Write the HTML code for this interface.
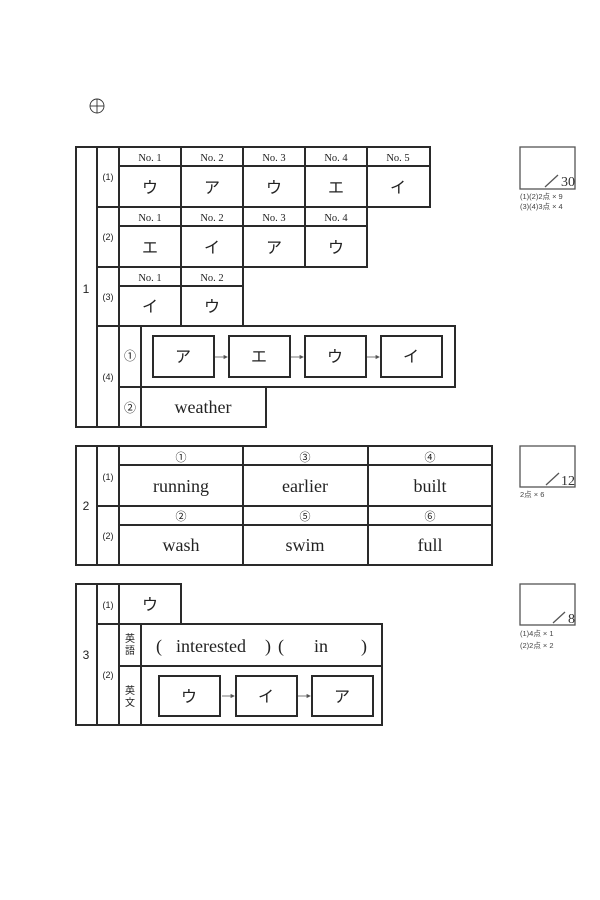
<!DOCTYPE html>
<html><head><meta charset="utf-8"><style>
html,body{margin:0;padding:0;background:#fff;width:600px;height:900px;overflow:hidden}
svg{display:block}
.s{font-family:"Liberation Serif","Noto Serif CJK SC",serif}
.g{font-family:"Liberation Sans","Noto Sans CJK JP",sans-serif}
</style></head><body>
<svg width="600" height="900" viewBox="0 0 600 900" xmlns="http://www.w3.org/2000/svg">
<g fill="none" stroke="#333" stroke-width="0.9">
<circle cx="97" cy="106" r="7"/><line x1="90" y1="106" x2="104" y2="106"/><line x1="97" y1="99" x2="97" y2="113"/>
</g>
<g fill="none" stroke="#2a2a2a" stroke-width="2">
<rect x="76" y="147" width="21" height="280"/>
<rect x="97" y="147" width="22" height="60"/>
<rect x="97" y="207" width="22" height="60"/>
<rect x="97" y="267" width="22" height="59"/>
<rect x="97" y="326" width="22" height="101"/>
<rect x="119" y="147" width="311" height="60"/>
<line x1="119" y1="166" x2="430" y2="166"/>
<line x1="181" y1="147" x2="181" y2="207"/><line x1="243" y1="147" x2="243" y2="207"/><line x1="305" y1="147" x2="305" y2="207"/><line x1="367" y1="147" x2="367" y2="207"/>
<rect x="119" y="207" width="248" height="60"/>
<line x1="119" y1="226" x2="367" y2="226"/>
<line x1="181" y1="207" x2="181" y2="267"/><line x1="243" y1="207" x2="243" y2="267"/><line x1="305" y1="207" x2="305" y2="267"/>
<rect x="119" y="267" width="124" height="59"/>
<line x1="119" y1="286" x2="243" y2="286"/>
<line x1="181" y1="267" x2="181" y2="326"/>
<rect x="119" y="326" width="22" height="61"/>
<rect x="119" y="387" width="22" height="40"/>
<rect x="141" y="326" width="314" height="61"/>
<rect x="141" y="387" width="125" height="40"/>
<rect x="153" y="336" width="61" height="41"/>
<rect x="229" y="336" width="61" height="41"/>
<rect x="305" y="336" width="61" height="41"/>
<rect x="381" y="336" width="61" height="41"/>
<rect x="76" y="446" width="21" height="119"/>
<rect x="97" y="446" width="22" height="60"/>
<rect x="97" y="506" width="22" height="59"/>
<rect x="119" y="446" width="373" height="119"/>
<line x1="119" y1="465" x2="492" y2="465"/>
<line x1="119" y1="506" x2="492" y2="506"/>
<line x1="119" y1="525" x2="492" y2="525"/>
<line x1="243" y1="446" x2="243" y2="565"/><line x1="368" y1="446" x2="368" y2="565"/>
<rect x="76" y="584" width="21" height="141"/>
<rect x="97" y="584" width="22" height="40"/>
<rect x="97" y="624" width="22" height="101"/>
<rect x="119" y="584" width="62" height="40"/>
<rect x="119" y="624" width="22" height="42"/>
<rect x="119" y="666" width="22" height="59"/>
<rect x="141" y="624" width="241" height="42"/>
<rect x="141" y="666" width="241" height="59"/>
<rect x="159" y="676" width="61" height="40"/>
<rect x="236" y="676" width="61" height="40"/>
<rect x="312" y="676" width="61" height="40"/>
</g>
<g fill="none" stroke="#555" stroke-width="1.3">
<rect x="520" y="147" width="55" height="42"/>
<rect x="520" y="446" width="55" height="41"/>
<rect x="520" y="584" width="55" height="41"/>
<line x1="545" y1="187" x2="558" y2="175"/>
<line x1="546" y1="485" x2="559" y2="473"/>
<line x1="553" y1="623" x2="565" y2="612"/>
</g>
<g fill="#555" stroke="#555" stroke-width="0.8">
<line x1="215" y1="357" x2="226" y2="357"/><polygon points="227,357 224,355.5 224,358.5"/>
<line x1="291" y1="357" x2="302" y2="357"/><polygon points="303,357 300,355.5 300,358.5"/>
<line x1="367" y1="357" x2="378" y2="357"/><polygon points="379,357 376,355.5 376,358.5"/>
<line x1="222" y1="696" x2="233" y2="696"/><polygon points="234,696 231,694.5 231,697.5"/>
<line x1="298" y1="696" x2="309" y2="696"/><polygon points="310,696 307,694.5 307,697.5"/>
</g>
<g class="s" fill="#333" font-size="14" text-anchor="end">
<text x="575" y="186">30</text><text x="575" y="485">12</text><text x="575" y="623">8</text>
</g>
<g class="g" fill="#444" font-size="7.5">
<text x="520" y="199">(1)(2)2点 × 9</text><text x="520" y="209">(3)(4)3点 × 4</text>
<text x="520" y="497">2点 × 6</text>
<text x="520" y="636">(1)4点 × 1</text><text x="520" y="648">(2)2点 × 2</text>
</g>
<g class="s" fill="#222" font-size="10.5" text-anchor="middle">
<text x="150" y="161">No. 1</text><text x="212" y="161">No. 2</text><text x="274" y="161">No. 3</text><text x="336" y="161">No. 4</text><text x="398" y="161">No. 5</text>
<text x="150" y="221">No. 1</text><text x="212" y="221">No. 2</text><text x="274" y="221">No. 3</text><text x="336" y="221">No. 4</text>
<text x="150" y="281">No. 1</text><text x="212" y="281">No. 2</text>
</g>
<g class="g" fill="#222" font-size="9" text-anchor="middle">
<text x="108" y="180">(1)</text><text x="108" y="240">(2)</text><text x="108" y="300">(3)</text><text x="108" y="380">(4)</text>
<text x="108" y="480">(1)</text><text x="108" y="539">(2)</text>
<text x="108" y="608">(1)</text><text x="108" y="678">(2)</text>
</g>
<g class="g" fill="#222" font-size="12" text-anchor="middle">
<text x="86" y="293">1</text><text x="86" y="510">2</text><text x="86" y="659">3</text>
<text x="130" y="360">①</text><text x="130" y="412">②</text>
<text x="181" y="461" font-size="11">①</text><text x="305" y="461" font-size="11">③</text><text x="430" y="461" font-size="11">④</text>
<text x="181" y="520" font-size="11">②</text><text x="305" y="520" font-size="11">⑤</text><text x="430" y="520" font-size="11">⑥</text>
</g>
<g class="g" fill="#222" font-size="10" text-anchor="middle">
<text x="130" y="642">英</text><text x="130" y="654">語</text>
<text x="130" y="694">英</text><text x="130" y="706">文</text>
</g>
<g class="g" fill="#222" font-size="16" text-anchor="middle">
<text x="150" y="193">ウ</text><text x="212" y="193">ア</text><text x="274" y="193">ウ</text><text x="336" y="193">エ</text><text x="398" y="193">イ</text>
<text x="150" y="253">エ</text><text x="212" y="253">イ</text><text x="274" y="253">ア</text><text x="336" y="253">ウ</text>
<text x="150" y="312">イ</text><text x="212" y="312">ウ</text>
<text x="183" y="362">ア</text><text x="259" y="362">エ</text><text x="335" y="362">ウ</text><text x="411" y="362">イ</text>
<text x="150" y="610">ウ</text>
<text x="189" y="702">ウ</text><text x="266" y="702">イ</text><text x="342" y="702">ア</text>
</g>
<g class="s" fill="#222" font-size="18" text-anchor="middle">
<text x="203" y="413">weather</text>
<text x="181" y="492">running</text><text x="305" y="492">earlier</text><text x="430" y="492">built</text>
<text x="181" y="551">wash</text><text x="305" y="551">swim</text><text x="430" y="551">full</text>
<text x="159" y="652">(</text><text x="211" y="652">interested</text><text x="268" y="652">)</text><text x="281" y="652">(</text>
<text x="321" y="652">in</text><text x="364" y="652">)</text>
</g>
</svg>
</body></html>
